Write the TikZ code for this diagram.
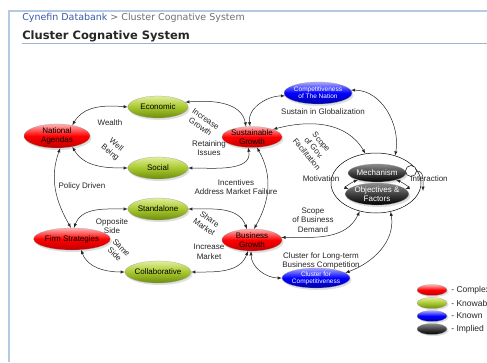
\documentclass[tikz,border=0pt]{standalone}
\usepackage{fontspec}
\setmainfont{Liberation Sans}
\newfontfamily\hdrfont{DejaVu Sans}
\usepackage{tikz}
\usetikzlibrary{arrows,shapes.geometric,shadows,positioning}

\definecolor{hdrblue}{HTML}{3A5BA8}
\definecolor{hdrgray}{HTML}{707070}
\definecolor{framecol}{HTML}{B4CAE2}
\definecolor{rulecol}{HTML}{9FB4CC}
\definecolor{olivetop}{HTML}{E2EE9A}
\definecolor{olivemid}{HTML}{A8C82E}
\definecolor{olivebot}{HTML}{6E8C0C}

\begin{document}
\begin{tikzpicture}[x=1pt, y=1pt, line width=0.5pt, >=latex,
  oval/.style={ellipse, inner sep=0pt, minimum width=60pt, minimum height=22pt, align=center,
    font=\fontsize{8}{8.5}\selectfont, draw=black!40, very thin,
    drop shadow={opacity=0.25, shadow xshift=1.5pt, shadow yshift=-2pt}},
  complexnode/.style={oval, top color=red!30!white, bottom color=red!75!black, middle color=red},
  knowable/.style={oval, top color=olivetop, bottom color=olivebot, middle color=olivemid},
  known/.style={oval, top color=blue!35!white, bottom color=blue!65!black, middle color=blue, text=white,
    font=\fontsize{6.5}{7}\selectfont},
  implied/.style={oval, top color=black!45, bottom color=black, middle color=black!75, text=white},
  keynode/.style={ellipse, inner sep=0pt, minimum width=30pt, minimum height=11pt, very thin, draw=black!40,
    drop shadow={opacity=0.25, shadow xshift=1.5pt, shadow yshift=-1.5pt}},
  lbl/.style={font=\fontsize{8}{9.5}\selectfont, align=center, text=black!85, inner sep=1pt},
  keytext/.style={font=\fontsize{8.5}{9}\selectfont, text=black!85, inner sep=0pt, anchor=west},
  link/.style={<->, black!85}
]
\useasboundingbox (0,0) rectangle (487,-362);
\fill[white] (0,0) rectangle (487,-362);

% page frame and header
\draw[framecol, line width=1.2pt] (9,-362) -- (9,-11) -- (487,-11);
\draw[rulecol, line width=0.8pt] (22,-43) -- (487,-43);
\node[anchor=west, inner sep=0pt, font=\hdrfont\fontsize{9.5}{10}\selectfont] (crumb) at (22,-18)
  {\textcolor{hdrblue}{Cynefin Databank} \textcolor{hdrgray}{> Cluster Cognative System}};
\node[anchor=west, inner sep=0pt, font=\hdrfont\bfseries\fontsize{11.5}{12}\selectfont, text=black!85] (title) at (22,-36)
  {Cluster Cognative System};

% nodes
\node[knowable] (eco) at (158,-107) {Economic};
\node[complexnode, minimum width=66pt, minimum height=24pt] (nat) at (57,-136) {National\\Agendas};
\node[knowable] (soc) at (158,-168) {Social};
\node[complexnode, minimum height=21pt] (sg) at (252,-137) {Sustainable\\Growth};
\node[known, minimum width=58pt] (comp) at (318,-93) {Competitiveness\\of The Nation};
\node[knowable] (stand) at (158,-209) {Standalone};
\node[complexnode, minimum width=60pt] (fs) at (72,-239) {Firm Strategies};
\node[complexnode] (bg) at (252,-240) {Business\\Growth};
\node[knowable, minimum width=58pt] (coll) at (158,-272) {Collaborative};
\node[known, minimum width=58pt, minimum height=20pt] (cc) at (316,-278) {Cluster for\\Competitiveness};

\node[ellipse, draw, minimum width=90pt, minimum height=60pt] (hub) at (376,-183) {};
\node[implied, minimum width=58pt, minimum height=18pt] (mech) at (377,-173) {Mechanism};
\node[implied, minimum width=58pt, minimum height=22pt] (obj) at (377,-194) {Objectives \&\\Factors};
\node[circle, draw, fill=white, minimum size=11pt, inner sep=0pt] (loop) at (411,-171) {};
\coordinate (ia) at (423,-191);

% connectors
\draw[link] (eco.west) to[out=175,in=60] (nat.35);
\draw[link] (eco.10) to[out=5,in=100] (sg.120);
\draw[link] (nat.-35) to[out=-60,in=180] (soc.west);
\draw[link] (soc.east) to[out=0,in=-80] (sg.-110);
\draw[link] (nat.-75) to[out=-110,in=120] (fs.95);
\draw[link] (sg.100) to[out=100,in=180] (comp.185);
\draw[link] (comp.5) to[out=0,in=80] (hub.55);
\draw[link] (sg.20) to[out=15,in=120] (hub.110);
\draw[link] (sg.-65) to[out=-60,in=60] (bg.80);
\draw[link] (fs.80) to[out=70,in=180] (stand.west);
\draw[link] (fs.-50) to[out=-70,in=180] (coll.west);
\draw[link] (stand.east) to[out=0,in=110] (bg.115);
\draw[link] (coll.east) to[out=0,in=-110] (bg.-110);
\draw[link] (bg.5) to[out=0,in=-115] (hub.-120);
\draw[link] (bg.-95) to[out=-90,in=180] (cc.west);
\draw[link] (cc.10) to[out=20,in=-80] (hub.-63);
\draw[link] (mech.200) to[out=200,in=160] (obj.170);
\draw[link] (mech.-20) to[out=-20,in=20] (obj.10);
\draw[->, black!85] (loop.east) to[out=0,in=90] (ia);

% connector labels
\node[lbl] (l1) at (110,-123) {Wealth};
\node[lbl, rotate=-40] (l2) at (113,-149) {Well\\Being};
\node[lbl, rotate=-35] (l3) at (203,-123) {Increase\\Growth};
\node[lbl] (l4) at (209,-148) {Retaining\\Issues};
\node[lbl] (l5) at (323,-112) {Sustain in Globalization};
\node[lbl, rotate=-50] (l6) at (314,-148) {Scope\\of Gov.\\Facilitation};
\node[lbl] (l7) at (82,-186) {Policy Driven};
\node[lbl] (l8) at (236,-187) {Incentives\\Address Market Failure};
\node[lbl] (l9) at (112,-226) {Opposite\\Side};
\node[lbl, rotate=-45] (l10) at (118,-251) {Same\\Side};
\node[lbl, rotate=-35] (l11) at (207,-223) {Share\\Market};
\node[lbl] (l12) at (209,-252) {Increase\\Market};
\node[lbl] (l13) at (321,-179) {Motivation};
\node[lbl] (l14) at (429,-179) {Interaction};
\node[lbl] (l15) at (313,-220) {Scope\\of Business\\Demand};
\node[lbl] (l16) at (321,-261) {Cluster for Long-term\\Business Competition};

% key
\node[keynode, top color=red!30!white, bottom color=red!75!black, middle color=red] (k1) at (432,-290) {};
\node[keynode, top color=olivetop, bottom color=olivebot, middle color=olivemid] (k2) at (432,-303) {};
\node[keynode, top color=blue!35!white, bottom color=blue!65!black, middle color=blue] (k3) at (432,-316) {};
\node[keynode, top color=black!45, bottom color=black, middle color=black!75] (k4) at (432,-329) {};
\node[keytext, right=4pt of k1] (t1) {- Complex};
\node[keytext, right=4pt of k2] (t2) {- Knowable};
\node[keytext, right=4pt of k3] (t3) {- Known};
\node[keytext, right=4pt of k4] (t4) {- Implied};

\end{tikzpicture}
\end{document}
